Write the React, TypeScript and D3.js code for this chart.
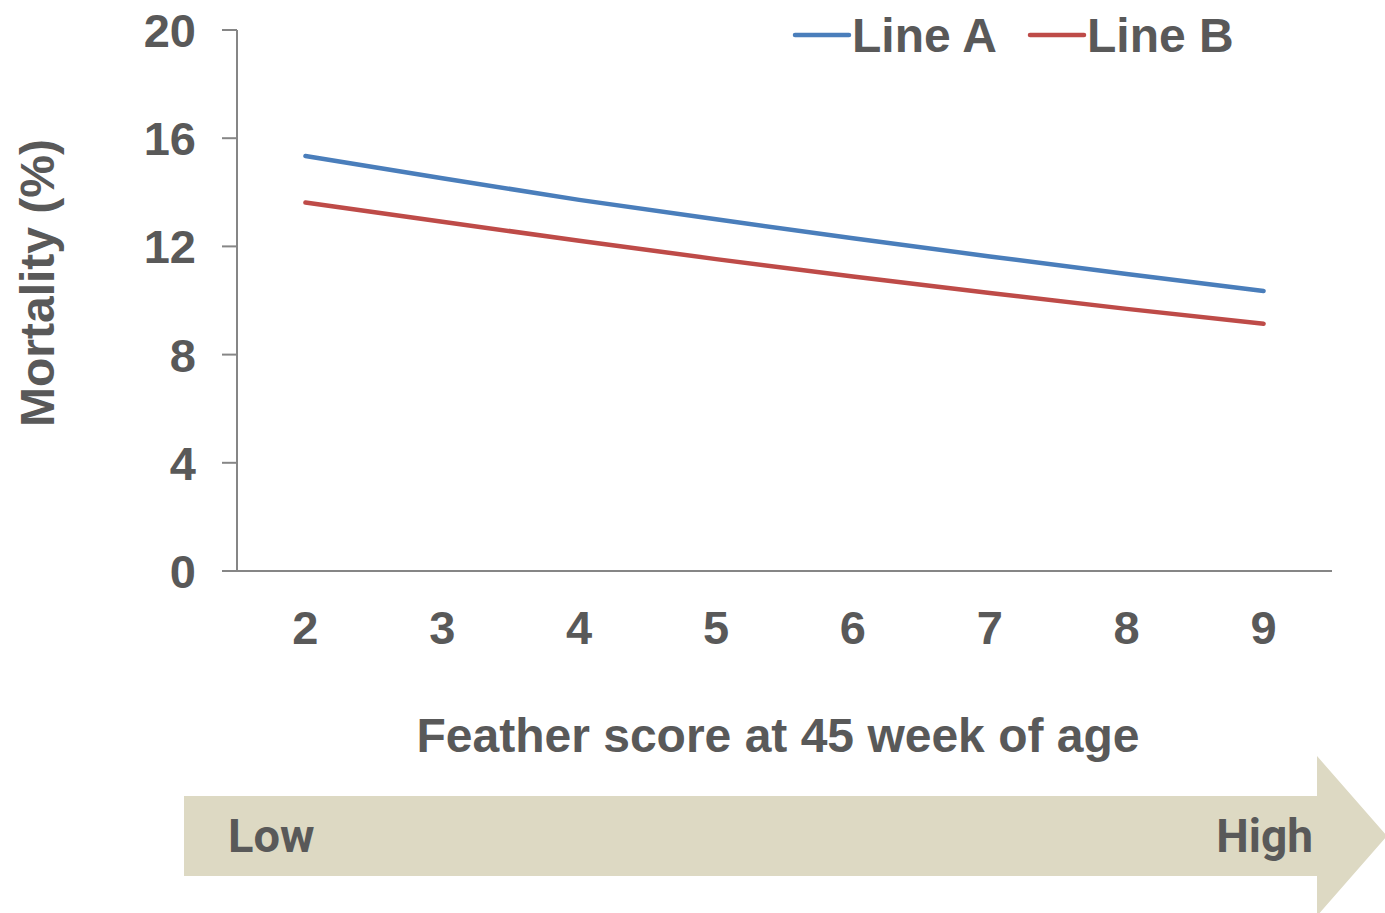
import React from "react";
import * as d3 from "d3";

// Feather score categories (x) and mortality (%) per line
const scores = [2, 3, 4, 5, 6, 7, 8, 9];
const lineA = [15.34, 14.52, 13.72, 13.0, 12.3, 11.63, 10.98, 10.35];
const lineB = [13.62, 12.91, 12.21, 11.53, 10.89, 10.28, 9.69, 9.14];
const yTicks = [0, 4, 8, 12, 16, 20];
const seriesNames = ["Line A", "Line B"];
const seriesColors = ["#4A7EBB", "#BE4B48"];

const W = 1385;
const H = 913;
const TEXT = "#595959";
const AXIS = "#868686";
const FONT = "'Liberation Sans', Arial, sans-serif";
const NARROW = "'Liberation Sans Narrow', 'Roboto', sans-serif";

export default function App() {
  const x = d3.scalePoint<number>().domain(scores).range([237, 1332]).padding(0.5);
  const y = d3.scaleLinear().domain([0, 20]).range([571, 30]);

  const line = d3
    .line<number>()
    .x((_, i) => x(scores[i]) as number)
    .y((d) => y(d));

  const series = [lineA, lineB];

  // Arrow band below the chart
  const bandTop = 796;
  const bandBot = 876;
  const bandLeft = 184;
  const headX = 1317;
  const headTop = 756;
  const headBot = 916;
  const tipX = 1387;
  const mid = (bandTop + bandBot) / 2;
  const arrowPath = `M${bandLeft},${bandTop} L${headX},${bandTop} L${headX},${headTop} L${tipX},${mid} L${headX},${headBot} L${headX},${bandBot} L${bandLeft},${bandBot} Z`;

  return (
    <svg
      width={W}
      height={H}
      style={{ position: "absolute", left: 0, top: 0, display: "block", background: "#fff" }}
      fontFamily={FONT}
    >
      {/* y axis */}
      <line x1={237} x2={237} y1={y(20)} y2={y(0)} stroke={AXIS} strokeWidth={2} />
      {yTicks.map((t) => (
        <g key={t}>
          <line x1={222} x2={237} y1={y(t)} y2={y(t)} stroke={AXIS} strokeWidth={2} />
          <text
            x={196}
            y={y(t)}
            dy="0.36em"
            textAnchor="end"
            fontSize={47}
            fontWeight="bold"
            fill={TEXT}
          >
            {t}
          </text>
        </g>
      ))}
      {/* x axis */}
      <line x1={222} x2={1332} y1={y(0)} y2={y(0)} stroke={AXIS} strokeWidth={2} />
      {scores.map((s) => (
        <text
          key={s}
          x={x(s)}
          y={644}
          textAnchor="middle"
          fontSize={47}
          fontWeight="bold"
          fill={TEXT}
        >
          {s}
        </text>
      ))}

      {/* axis titles */}
      <text
        transform={`translate(54,283) rotate(-90)`}
        textAnchor="middle"
        fontSize={48}
        fontWeight="bold"
        fill={TEXT}
      >
        Mortality (%)
      </text>
      <text x={778} y={752} textAnchor="middle" fontSize={48} fontWeight="bold" fill={TEXT}>
        Feather score at 45 week of age
      </text>

      {/* series */}
      {series.map((vals, i) => (
        <path
          key={i}
          d={line(vals) as string}
          fill="none"
          stroke={seriesColors[i]}
          strokeWidth={4.5}
          strokeLinecap="round"
          strokeLinejoin="round"
        />
      ))}

      {/* legend */}
      {seriesNames.map((name, i) => {
        const lx = [795, 1030][i];
        return (
          <g key={name}>
            <line
              x1={lx}
              x2={lx + 54}
              y1={35}
              y2={35}
              stroke={seriesColors[i]}
              strokeWidth={4.5}
              strokeLinecap="round"
            />
            <text x={lx + 57} y={52} fontSize={48} fontWeight="bold" fill={TEXT}>
              {name}
            </text>
          </g>
        );
      })}

      {/* low/high arrow */}
      <path d={arrowPath} fill="#DDD9C3" />
      <text x={228} y={852} fontSize={47} fontWeight="bold" fill={TEXT} fontFamily={NARROW}>
        Low
      </text>
      <text
        x={1313}
        y={852}
        textAnchor="end"
        fontSize={46}
        fontWeight="bold"
        fill={TEXT}
        fontFamily={NARROW}
      >
        High
      </text>
    </svg>
  );
}
